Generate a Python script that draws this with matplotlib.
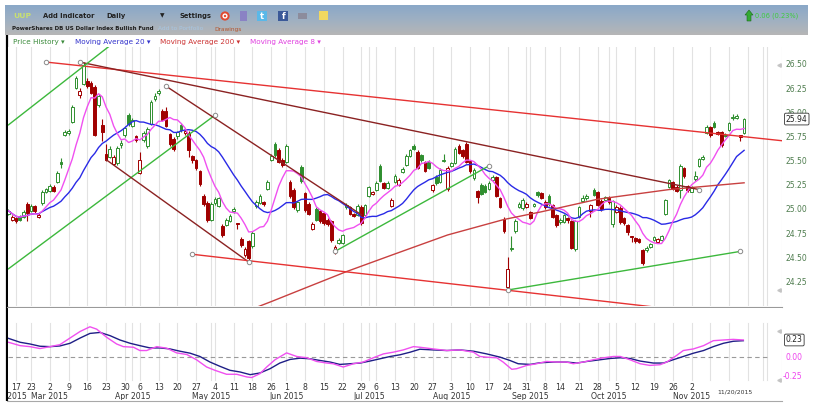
import numpy as np
import pandas as pd
import matplotlib
matplotlib.use("Agg")
import matplotlib.pyplot as plt
from matplotlib.patches import Rectangle, Circle, Polygon
from matplotlib.colors import LinearSegmentedColormap

# ---------------- data ----------------
first_day = "2015-02-12"
last_day = "2015-11-20"
calendar_end = "2015-12-11"
market_holidays = ["2015-02-16", "2015-04-03", "2015-05-25", "2015-07-03", "2015-09-07", "2015-11-26"]

open_prices = [
    24.96, 24.90, 24.92, 24.93, 24.93, 25.06, 24.99, 25.04, 24.93, 25.07,
    25.19, 25.20, 25.24, 25.29, 25.50, 25.78, 25.80, 25.91, 26.26, 26.19,
    26.30, 26.33, 26.31, 26.27, 26.09, 25.88, 25.58, 25.55, 25.47, 25.48,
    25.67, 25.77, 25.98, 25.87, 25.76, 25.38, 25.72, 25.66, 25.89, 26.15,
    26.21, 26.02, 26.02, 25.79, 25.73, 25.76, 25.88, 25.80, 25.80, 25.56,
    25.52, 25.40, 25.14, 25.07, 24.89, 25.07, 25.04, 24.83, 24.84, 24.88,
    24.99, 24.86, 24.70, 24.53, 24.68, 24.63, 25.04, 25.07, 25.08, 25.22,
    25.52, 25.68, 25.62, 25.52, 25.50, 25.29, 25.21, 25.00, 25.44, 25.17,
    25.06, 24.80, 25.01, 24.99, 24.97, 24.90, 24.88, 24.55, 24.66, 24.66,
    25.03, 25.03, 24.96, 24.95, 25.03, 24.95, 25.14, 25.16, 25.21, 25.45,
    25.28, 25.23, 25.04, 25.29, 25.26, 25.39, 25.46, 25.56, 25.66, 25.60,
    25.57, 25.50, 25.50, 25.21, 25.34, 25.29, 25.51, 25.22, 25.45, 25.48,
    25.66, 25.62, 25.68, 25.51, 25.33, 25.20, 25.26, 25.25, 25.22, 25.31,
    25.34, 25.12, 24.91, 24.20, 24.59, 24.78, 25.03, 25.02, 25.03, 24.98,
    25.04, 25.19, 25.17, 25.08, 25.14, 25.05, 24.95, 24.87, 24.87, 24.92,
    24.88, 24.59, 24.93, 25.09, 25.12, 24.99, 25.21, 25.18, 25.09, 25.10,
    25.12, 24.85, 24.98, 25.02, 24.92, 24.84, 24.73, 24.71, 24.70, 24.58,
    24.58, 24.62, 24.69, 24.67, 24.69, 24.96, 25.24, 25.29, 25.24, 25.21,
    25.43, 25.25, 25.19, 25.32, 25.45, 25.53, 25.80, 25.86, 25.90, 25.81,
    25.81, 25.78, 25.83, 25.95, 25.95, 25.77, 25.80,
]
high_prices = [
    25.01, 24.95, 24.93, 24.95, 25.00, 25.08, 25.06, 25.05, 24.97, 25.21,
    25.23, 25.27, 25.26, 25.40, 25.54, 25.83, 25.84, 26.09, 26.39, 26.26,
    26.53, 26.36, 26.33, 26.29, 26.20, 25.94, 25.68, 25.66, 25.57, 25.66,
    25.72, 25.87, 26.00, 25.95, 25.78, 25.60, 25.82, 25.86, 26.14, 26.21,
    26.25, 26.04, 26.06, 25.80, 25.75, 25.82, 25.90, 25.84, 25.82, 25.57,
    25.53, 25.41, 25.16, 25.09, 25.08, 25.13, 25.13, 24.85, 24.92, 24.96,
    25.03, 24.86, 24.72, 24.62, 24.69, 24.78, 25.10, 25.16, 25.09, 25.31,
    25.58, 25.70, 25.64, 25.54, 25.68, 25.31, 25.23, 25.09, 25.46, 25.18,
    25.08, 24.87, 25.03, 25.00, 24.98, 24.92, 24.90, 24.64, 24.71, 24.75,
    25.07, 25.04, 24.97, 25.06, 25.05, 25.06, 25.25, 25.20, 25.30, 25.47,
    25.29, 25.30, 25.12, 25.37, 25.33, 25.44, 25.58, 25.63, 25.68, 25.62,
    25.58, 25.51, 25.52, 25.27, 25.36, 25.43, 25.58, 25.45, 25.50, 25.65,
    25.68, 25.63, 25.70, 25.52, 25.43, 25.21, 25.28, 25.27, 25.30, 25.36,
    25.35, 25.13, 24.93, 24.51, 24.73, 24.91, 25.08, 25.12, 25.08, 24.99,
    25.07, 25.20, 25.18, 25.10, 25.16, 25.06, 24.96, 24.92, 24.96, 24.93,
    24.90, 24.89, 25.04, 25.15, 25.16, 25.06, 25.23, 25.20, 25.11, 25.14,
    25.14, 25.10, 25.05, 25.04, 24.93, 24.85, 24.73, 24.72, 24.71, 24.59,
    24.63, 24.66, 24.73, 24.71, 24.74, 25.11, 25.32, 25.30, 25.26, 25.47,
    25.44, 25.26, 25.25, 25.40, 25.54, 25.57, 25.88, 25.87, 25.92, 25.82,
    25.82, 25.80, 25.91, 25.99, 25.99, 25.78, 25.95,
]
low_prices = [
    24.95, 24.88, 24.86, 24.88, 24.92, 24.88, 24.98, 24.97, 24.92, 25.05,
    25.17, 25.19, 25.18, 25.28, 25.43, 25.76, 25.78, 25.90, 26.25, 26.16,
    26.29, 26.26, 26.20, 25.76, 26.07, 25.71, 25.51, 25.54, 25.46, 25.46,
    25.64, 25.75, 25.87, 25.86, 25.70, 25.37, 25.70, 25.64, 25.88, 26.13,
    26.19, 25.92, 25.86, 25.66, 25.61, 25.73, 25.81, 25.78, 25.55, 25.49,
    25.41, 25.25, 25.04, 24.87, 24.88, 25.05, 25.03, 24.72, 24.83, 24.87,
    24.97, 24.80, 24.62, 24.51, 24.47, 24.61, 25.02, 25.06, 25.04, 25.21,
    25.51, 25.55, 25.49, 25.44, 25.49, 25.12, 25.01, 24.98, 25.28, 24.98,
    24.95, 24.79, 24.88, 24.86, 24.84, 24.83, 24.67, 24.54, 24.65, 24.65,
    25.01, 24.95, 24.93, 24.94, 24.84, 24.93, 25.13, 25.15, 25.20, 25.29,
    25.22, 25.22, 25.03, 25.28, 25.25, 25.38, 25.45, 25.55, 25.62, 25.42,
    25.50, 25.39, 25.42, 25.19, 25.26, 25.28, 25.50, 25.20, 25.44, 25.47,
    25.58, 25.54, 25.49, 25.38, 25.31, 25.07, 25.15, 25.17, 25.21, 25.30,
    25.13, 25.02, 24.76, 24.18, 24.57, 24.76, 25.02, 25.00, 25.02, 24.91,
    25.03, 25.13, 25.11, 25.01, 25.04, 24.92, 24.82, 24.85, 24.86, 24.86,
    24.59, 24.57, 24.92, 25.08, 25.10, 24.93, 25.14, 25.04, 24.99, 25.09,
    25.06, 24.82, 24.97, 24.85, 24.84, 24.74, 24.67, 24.66, 24.66, 24.43,
    24.56, 24.61, 24.68, 24.66, 24.68, 24.95, 25.23, 25.21, 25.19, 25.12,
    25.33, 25.19, 25.18, 25.30, 25.44, 25.52, 25.79, 25.75, 25.85, 25.78,
    25.65, 25.75, 25.82, 25.93, 25.94, 25.71, 25.79,
]
close_prices = [
    24.99, 24.93, 24.88, 24.90, 24.98, 24.97, 25.04, 24.99, 24.95, 25.19,
    25.22, 25.25, 25.20, 25.38, 25.47, 25.81, 25.82, 26.07, 26.37, 26.23,
    26.50, 26.28, 26.21, 25.78, 26.18, 25.81, 25.52, 25.63, 25.55, 25.64,
    25.69, 25.85, 25.89, 25.93, 25.72, 25.52, 25.80, 25.84, 26.12, 26.18,
    26.23, 25.93, 25.87, 25.68, 25.63, 25.81, 25.83, 25.82, 25.62, 25.52,
    25.43, 25.27, 25.06, 24.89, 25.06, 25.11, 25.12, 24.74, 24.90, 24.94,
    25.01, 24.85, 24.64, 24.59, 24.50, 24.76, 25.08, 25.14, 25.06, 25.29,
    25.56, 25.57, 25.50, 25.46, 25.66, 25.14, 25.03, 25.08, 25.30, 25.00,
    24.96, 24.85, 24.90, 24.88, 24.86, 24.85, 24.69, 24.62, 24.69, 24.74,
    25.05, 24.96, 24.94, 25.04, 24.86, 25.05, 25.24, 25.18, 25.28, 25.30,
    25.23, 25.28, 25.10, 25.35, 25.31, 25.42, 25.56, 25.62, 25.63, 25.43,
    25.52, 25.40, 25.43, 25.26, 25.28, 25.41, 25.52, 25.43, 25.48, 25.63,
    25.59, 25.56, 25.50, 25.40, 25.41, 25.13, 25.16, 25.18, 25.28, 25.34,
    25.14, 25.03, 24.78, 24.39, 24.60, 24.88, 25.06, 25.10, 25.06, 24.92,
    25.06, 25.15, 25.12, 25.03, 25.06, 24.93, 24.84, 24.90, 24.95, 24.89,
    24.61, 24.88, 25.03, 25.12, 25.14, 25.05, 25.15, 25.05, 25.01, 25.13,
    25.08, 25.09, 25.03, 24.87, 24.86, 24.77, 24.72, 24.68, 24.67, 24.45,
    24.61, 24.65, 24.72, 24.70, 24.73, 25.10, 25.31, 25.22, 25.20, 25.45,
    25.35, 25.21, 25.23, 25.35, 25.53, 25.55, 25.86, 25.77, 25.86, 25.79,
    25.67, 25.76, 25.90, 25.96, 25.97, 25.75, 25.94,
]

ma200_dates = ["2015-05-15", "2015-05-26", "2015-06-08", "2015-06-23", "2015-07-10", "2015-07-31",
               "2015-08-21", "2015-09-04", "2015-09-28", "2015-10-23", "2015-11-20"]
ma200_values = [23.96, 24.05, 24.19, 24.36, 24.53, 24.74, 24.90, 24.98, 25.11, 25.21, 25.28]

# MACD panel (x = trading days after first_day)
macd_days = [0.0, 3.1, 5.7, 8.4, 11.1, 13.7, 16.4, 19.1, 21.7, 23.5, 26.2, 28.8, 30.6, 33.3, 35.0,
             36.8, 39.5, 42.2, 44.8, 47.5, 50.1, 52.8, 55.0, 58.1, 60.8, 63.5, 64.8, 67.0, 68.8,
             71.0, 74.1, 76.8, 79.5, 82.1, 84.8, 86.5, 89.2, 91.9, 94.5, 97.2, 99.9, 102.5, 105.2,
             107.9, 109.6, 113.2, 116.8, 120.3, 123.9, 125.6, 127.4, 130.1, 131.8, 134.1, 135.4,
             138.1, 140.7, 143.4, 146.1, 148.7, 150.5, 153.2, 155.8, 158.5, 161.2, 163.0, 165.6,
             168.3, 170.9, 173.6, 175.4, 178.0, 179.8, 182.5, 185.2, 187.8, 190.5, 193.1, 195.8]
macd_values = [0.199, 0.155, 0.142, 0.117, 0.142, 0.168, 0.255, 0.341, 0.402, 0.371, 0.263, 0.177,
               0.142, 0.134, 0.091, 0.091, 0.142, 0.121, 0.060, 0.039, -0.030, -0.125, -0.168,
               -0.220, -0.220, -0.255, -0.263, -0.212, -0.125, -0.030, 0.060, 0.013, -0.004,
               -0.052, -0.073, -0.082, -0.125, -0.082, -0.060, -0.004, 0.047, 0.069, 0.099, 0.142,
               0.134, 0.112, 0.091, 0.099, 0.069, 0.013, 0.004, -0.004, -0.060, -0.155, -0.147,
               -0.104, -0.082, -0.052, -0.060, -0.060, -0.082, -0.060, -0.030, -0.004, 0.013,
               0.013, -0.030, -0.082, -0.104, -0.095, -0.060, 0.026, 0.091, 0.112, 0.155, 0.220,
               0.229, 0.237, 0.229]
signal_days = [0.0, 3.1, 5.7, 8.4, 11.1, 13.7, 16.4, 19.1, 21.7, 24.4, 27.1, 29.7, 32.4, 35.0, 37.7,
               40.4, 43.0, 45.7, 48.4, 51.0, 53.7, 56.4, 59.0, 61.7, 64.4, 67.0, 69.7, 72.3, 75.0,
               77.7, 80.3, 83.0, 85.7, 88.3, 91.0, 93.7, 96.3, 99.0, 101.7, 104.3, 107.0, 109.6,
               113.2, 116.8, 120.3, 123.9, 127.4, 131.0, 133.6, 135.8, 139.0, 141.6, 145.2, 148.7,
               151.4, 154.1, 157.6, 160.3, 163.0, 165.6, 168.3, 171.8, 174.5, 177.1, 179.8, 182.5,
               185.2, 187.8, 190.5, 193.1, 195.8]
signal_values = [0.250, 0.199, 0.177, 0.147, 0.142, 0.151, 0.186, 0.255, 0.315, 0.328, 0.285, 0.229,
                 0.186, 0.155, 0.125, 0.125, 0.112, 0.082, 0.056, 0.013, -0.060, -0.117, -0.168,
                 -0.190, -0.225, -0.203, -0.147, -0.073, -0.026, -0.009, -0.017, -0.039, -0.060,
                 -0.091, -0.082, -0.073, -0.047, -0.017, 0.013, 0.035, 0.069, 0.108, 0.099, 0.091,
                 0.099, 0.082, 0.047, 0.004, -0.039, -0.082, -0.091, -0.069, -0.060, -0.060,
                 -0.073, -0.052, -0.030, -0.013, -0.004, -0.013, -0.047, -0.073, -0.073, -0.030,
                 0.013, 0.056, 0.091, 0.142, 0.186, 0.212, 0.220]

# drawn trend lines
trend_start_dates = ["2015-02-27", "2015-03-12", "2015-02-12", "2015-02-12", "2015-04-15",
                     "2015-03-23", "2015-04-24", "2015-06-18", "2015-08-24"]
trend_start_prices = [26.53, 26.53, 25.88, 24.39, 26.28, 25.52, 24.54, 24.57, 24.17]
trend_end_dates = ["2015-12-07", "2015-11-04", "2015-03-27", "2015-05-04", "2015-06-29",
                   "2015-05-15", "2015-11-02", "2015-08-17", "2015-11-19"]
trend_end_prices = [25.716, 25.21, 26.79, 25.98, 24.95, 24.46, 23.95, 25.455, 24.57]
trend_start_marked = [True, True, False, False, True, False, True, True, True]
trend_end_marked = [False, True, False, True, False, True, False, True, True]
trend_kind = ["red", "maroon", "green", "green", "maroon", "maroon", "red", "green", "green"]

price_ticks = [24.25, 24.50, 24.75, 25.00, 25.25, 25.50, 25.75, 26.00, 26.25, 26.50]
price_tick_labels = ["24.25", "24.50", "24.75", "25.00", "25.25", "25.50", "25.75", "26.00", "26.25", "26.50"]
macd_ticks = [0.0, -0.25]
macd_tick_labels = ["0.00", "-0.25"]
last_price_label = "25.94"
last_macd_label = "0.23"
change_text = "0.06 (0.23%)"

# ---------------- styles ----------------
GREEN = "#2f8f2f"
RED = "#a00000"
LINE_COLORS = {"red": "#e63232", "maroon": "#8b2222", "green": "#3cb83c"}
MA8_C, MA20_C, MA200_C = "#f050f0", "#2a2ae6", "#c84040"
MACD_C, SIG_C = "#f050f0", "#1e1e86"

W, H = 825, 419


def box(l, t, r, b):
    return [l / W, 1 - b / H, (r - l) / W, (b - t) / H]


cal = pd.bdate_range(first_day, calendar_end)
cal = cal[~cal.isin(pd.to_datetime(market_holidays))]
pos_of = {d: k for k, d in enumerate(cal)}


def xp(d):
    return pos_of[pd.Timestamp(d)]


n = len(close_prices)
xs = np.arange(n)
closes = pd.Series(close_prices)
ma8 = closes.rolling(8, min_periods=1).mean()
ma20 = closes.rolling(20, min_periods=1).mean()

week_starts = [k for k in range(1, len(cal)) if cal[k].isocalendar()[1] != cal[k - 1].isocalendar()[1]]
month_starts = [k for k in range(1, len(cal)) if cal[k].month != cal[k - 1].month]
grid_pos = sorted(set(week_starts + month_starts))

XL = (-0.13, 206.1)
PY = (24.0046, 26.686)
MY = (-0.557, 0.648)

fig = plt.figure(figsize=(W / 100, H / 100), dpi=100)
fig.patch.set_facecolor("white")

# ---------------- decoration layer ----------------
deco = fig.add_axes([0, 0, 1, 1], zorder=0)
deco.axis("off")
cmap = LinearSegmentedColormap.from_list("hdr", ["#8aa8c8", "#9fb0c2", "#b6b6b6"])
deco.imshow(np.linspace(0, 1, 64).reshape(-1, 1), cmap=cmap, extent=(5, 808, 35, 5),
            aspect="auto", interpolation="bilinear")
deco.set_xlim(0, W)
deco.set_ylim(H, 0)
deco.plot([7, 7], [35, 401], color="black", lw=1.6, solid_capstyle="butt")
deco.plot([7, 782], [307, 307], color="#9a9a9a", lw=0.8)
deco.plot([7, 782], [401, 401], color="#a8a8a8", lw=0.8)

deco.text(13, 16, "UUP", fontsize=5.4, fontweight="bold", color="#c8e070", va="center")
deco.text(43, 16, "Add Indicator", fontsize=4.9, fontweight="bold", color="#222222", va="center")
deco.text(106, 16, "Daily", fontsize=4.9, fontweight="bold", color="#222222", va="center")
deco.text(160, 16, "\u25bc", fontsize=4.2, color="#222222", va="center")
deco.text(179, 16, "Settings", fontsize=4.9, fontweight="bold", color="#222222", va="center")
deco.add_patch(Circle((225, 16), 4.6, fc="#e04a30", ec="none"))
deco.add_patch(Circle((225, 16), 2.6, fc="white", ec="none"))
deco.add_patch(Circle((225, 16), 1.2, fc="#e04a30", ec="none"))
deco.add_patch(Rectangle((239.5, 11), 7, 10, fc="#8a82c4", ec="none"))
deco.add_patch(Rectangle((257, 11), 10, 10, fc="#5ab8e8", ec="none"))
deco.text(262, 16.5, "t", fontsize=6, fontweight="bold", color="white", ha="center", va="center")
deco.add_patch(Rectangle((278, 11), 10, 10, fc="#3b5998", ec="none"))
deco.text(284, 16.5, "f", fontsize=6, fontweight="bold", color="white", ha="center", va="center")
deco.add_patch(Rectangle((298, 13), 9, 6, fc="#8c8c9c", ec="none"))
deco.add_patch(Rectangle((318.5, 11.5), 9, 9, fc="#f2d860", ec="none"))
deco.text(12, 29, "PowerShares DB US Dollar Index Bullish Fund", fontsize=4.0, fontweight="bold",
          color="#1e1e1e", va="center")
deco.text(158, 29, "Add to Portfolio", fontsize=4.2, color="#a6c6e4", va="center")
deco.text(214, 29, "Drawings", fontsize=4.2, color="#b4552e", va="center")
deco.add_patch(Polygon([[745, 15], [749, 10], [753, 15], [751, 15], [751, 21], [747, 21], [747, 15]],
                       closed=True, fc="#33aa33", ec="#1a661a", lw=0.4))
deco.text(755, 16, change_text, fontsize=4.8, color="#3ccc3c", va="center")

deco.text(13, 42, "Price History \u25be", fontsize=5.2, color="#3a8a3a", va="center")
deco.text(75, 42, "Moving Average 20 \u25be", fontsize=5.2, color="#3333cc", va="center")
deco.text(160, 42, "Moving Average 200 \u25be", fontsize=5.2, color="#cc3333", va="center")
deco.text(250, 42, "Moving Average 8 \u25be", fontsize=5.2, color="#e040e0", va="center")

deco.add_patch(Rectangle((12.5, 311.5), 9, 9, fc="white", ec="#888888", lw=0.6))
deco.text(17, 316.3, "X", fontsize=4.6, color="#555555", ha="center", va="center")
deco.text(30, 316, "MACD 12 26 \u25be", fontsize=5.2, color="#e040e0", va="center")
deco.text(93, 316, "Exp Moving Average 9 \u25be", fontsize=5.2, color="#333399", va="center")

# ---------------- price panel ----------------
ax = fig.add_axes(box(8, 47, 782, 306), zorder=2)
ax.set_facecolor("white")
for sp in ax.spines.values():
    sp.set_visible(False)
ax.set_xticks([])
ax.set_yticks([])
ax.set_xlim(*XL)
ax.set_ylim(*PY)
for k in grid_pos:
    ax.axvline(k, color="#e2e2e2", lw=0.8, zorder=0)

prev = open_prices[0]
for k in range(n):
    o, h, l, c = open_prices[k], high_prices[k], low_prices[k], close_prices[k]
    col = GREEN if c >= prev else RED
    filled = c < o
    ax.vlines(k, l, h, color=col, lw=0.8, zorder=3)
    ax.add_patch(Rectangle((k - 0.36, min(o, c)), 0.72, max(abs(c - o), 0.005),
                           fc=col if filled else "white", ec=col, lw=0.7, zorder=4))
    prev = c

ax.plot(xs, ma20, color=MA20_C, lw=1.0, zorder=5)
ax.plot(xs, ma8, color=MA8_C, lw=1.0, zorder=5)
ax.plot([xp(d) for d in ma200_dates], ma200_values, color=MA200_C, lw=1.0, zorder=5)

for k in range(len(trend_kind)):
    x0, x1 = xp(trend_start_dates[k]), xp(trend_end_dates[k])
    y0, y1 = trend_start_prices[k], trend_end_prices[k]
    ax.plot([x0, x1], [y0, y1], color=LINE_COLORS[trend_kind[k]], lw=1.0, zorder=6)
    if trend_start_marked[k]:
        ax.plot(x0, y0, "o", ms=3.2, mfc="white", mec="#8a8a8a", mew=0.7, zorder=7)
    if trend_end_marked[k]:
        ax.plot(x1, y1, "o", ms=3.2, mfc="white", mec="#8a8a8a", mew=0.7, zorder=7)

ty = ax.get_yaxis_transform()
for v, s in zip(price_ticks, price_tick_labels):
    ax.text(1.004, v, s, transform=ty, fontsize=5.5, color="#4e7c4e", va="center", ha="left", clip_on=False)
ax.text(1.005, close_prices[-1], last_price_label, transform=ty, fontsize=5.5, color="#222222",
        va="center", ha="left", clip_on=False, zorder=10,
        bbox=dict(boxstyle="round,pad=0.18", fc="white", ec="#333333", lw=0.6))
ax.plot([0.9965], [price_ticks[-1]], marker="<", ms=2.5, color="#c4c4c4", transform=ty, clip_on=False)
ax.plot([0.9965], [24.17], marker="<", ms=2.5, color="#c4c4c4", transform=ty, clip_on=False)

# ---------------- MACD panel ----------------
ax2 = fig.add_axes(box(8, 308, 782, 400), zorder=2)
ax2.set_facecolor("white")
for sp in ax2.spines.values():
    sp.set_visible(False)
ax2.set_xticks([])
ax2.set_yticks([])
ax2.set_xlim(*XL)
ax2.set_ylim(*MY)
for k in grid_pos:
    ax2.axvline(k, ymin=0.215, ymax=0.84, color="#e2e2e2", lw=0.8, zorder=0)
ax2.hlines(0, XL[0], 202.4, color="#9a9a9a", lw=0.8, linestyles=(0, (4, 3)), zorder=1)
ax2.plot(signal_days, signal_values, color=SIG_C, lw=1.0, zorder=3)
ax2.plot(macd_days, macd_values, color=MACD_C, lw=1.0, zorder=4)

ty2 = ax2.get_yaxis_transform()
for v, s in zip(macd_ticks, macd_tick_labels):
    ax2.text(1.004 if v >= 0 else 1.001, v, s, transform=ty2, fontsize=5.5, color="#ee44ee",
             va="center", ha="left", clip_on=False)
ax2.text(1.005, macd_values[-1], last_macd_label, transform=ty2, fontsize=5.5, color="#222222",
         va="center", ha="left", clip_on=False,
         bbox=dict(boxstyle="round,pad=0.18", fc="white", ec="#333333", lw=0.6))
ax2.plot([0.9965], [0.35], marker="<", ms=2.5, color="#c4c4c4", transform=ty2, clip_on=False)
ax2.plot([0.9965], [-0.30], marker="<", ms=2.5, color="#c4c4c4", transform=ty2, clip_on=False)

tx2 = ax2.get_xaxis_transform()
for k in week_starts:
    if k < n and (n - 1 - k) >= 12:
        ax2.text(k, 0.135, str(cal[k].day), transform=tx2, fontsize=5.6, color="#333333",
                 ha="center", va="center")
for k in [0] + month_starts:
    if k < n:
        ax2.text(k, 0.035, cal[k].strftime("%b %Y"), transform=tx2, fontsize=5.6, color="#333333",
                 ha="center", va="center", clip_on=True)
ax2.text(n - 1 + 2.3, 0.09, pd.Timestamp(last_day).strftime("%m/%d/%Y"), transform=tx2,
         fontsize=4.4, color="#333333", ha="right", va="center")

fig.savefig("out.png", dpi=100, facecolor="white")
